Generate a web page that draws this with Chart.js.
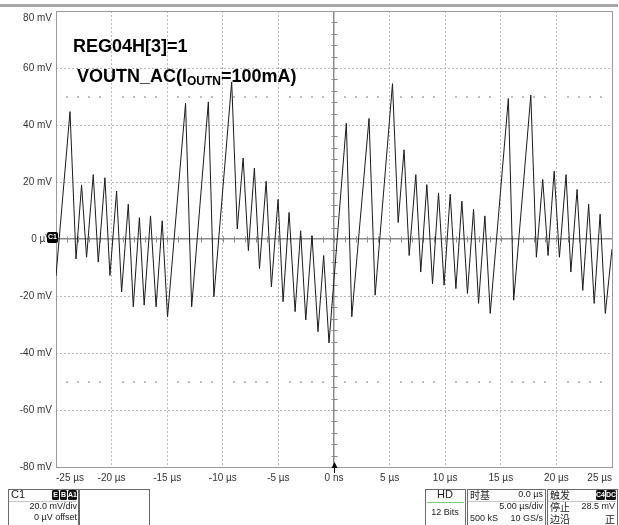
<!DOCTYPE html>
<html><head><meta charset="utf-8">
<script src="https://cdn.jsdelivr.net/npm/chart.js@4.4.0/dist/chart.umd.min.js"></script>
<style>html,body{margin:0;padding:0;background:#fff;}#wrap{position:relative;width:619px;height:525px;}</style>
</head><body><div id="wrap"><canvas id="c" width="619" height="525"></canvas></div>
<script>
// ---- data (time in µs, voltage in mV) ----
const timeUs = [-25.0,-23.74,-23.2,-22.7,-22.25,-21.65,-21.2,-20.6,-20.15,-19.55,-19.1,-18.5,-18.05,-17.5,-17.07,-16.5,-16.0,-15.45,-14.97,
  -13.35,-12.8,-11.3,-10.8,-9.2,-8.7,-8.17,-7.7,-7.16,-6.7,-6.1,-5.63,-5.03,-4.58,-4.04,-3.5,-3.0,-2.54,-1.98,-1.44,-0.93,-0.45,
  1.11,1.6,3.15,3.7,5.26,5.77,6.3,6.76,7.36,7.8,8.35,8.86,9.4,9.9,10.45,10.96,11.5,12.0,12.55,13.0,13.57,14.05,
  15.68,16.16,17.7,18.2,18.77,19.25,19.8,20.27,20.87,21.3,21.86,22.37,22.9,23.4,23.93,24.4,25.0];
const voltageMv = [-13,44.7,-7,19,-6.4,22.6,-8.1,21.5,-12.8,16.8,-18.6,12.2,-23.8,7.5,-23.2,8.1,-23.8,6.4,-27.3,
  47.6,-23.8,48.1,-20.3,55.1,3.5,28.4,-4.1,24.9,-10.4,20.3,-16.8,13.9,-22.0,9.3,-25.5,2.9,-28.4,1.2,-32.5,-5.8,-36.5,
  40.6,-27.3,42.3,-19.7,54.5,5.8,31.3,-5.8,22.6,-11.6,19.1,-15.7,16.2,-16.2,15.7,-17.4,13.3,-19.1,10.4,-22.6,8.1,-26.1,
  49.3,-21.5,50.5,-6.4,20.9,-5.8,23.8,-6.4,22.6,-11.6,17.4,-18.0,12.2,-22.6,8.7,-26.1,-3.5];
const xTicks = [-25,-20,-15,-10,-5,0,5,10,15,20,25];
const xTickLabels = ['-25 µs','-20 µs','-15 µs','-10 µs','-5 µs','0 ns','5 µs','10 µs','15 µs','20 µs','25 µs'];
const yTicks = [-80,-60,-40,-20,0,20,40,60,80];
const yTickLabels = ['-80 mV','-60 mV','-40 mV','-20 mV','0 µV','20 mV','40 mV','60 mV','80 mV'];
const titleLine1 = 'REG04H[3]=1';
const titleLine2 = ['VOUTN_AC(I', 'OUTN', '=100mA)'];
const markerLevelsMv = [50, -50];
const channelInfo = ['C1', '20.0 mV/div', '0 µV offset'];
const timebaseInfo = ['时基', '0.0 µs', '5.00 µs/div', '500 kS', '10 GS/s'];
const triggerInfo = ['触发', '停止', '28.5 mV', '边沿', '正'];
const acqInfo = ['HD', '12 Bits'];

const points = timeUs.map((t, i) => ({x: t, y: voltageMv[i]}));
const FONT = '"Liberation Sans Narrow","Liberation Sans",Arial,sans-serif';
const CJK = '"Noto Sans CJK SC","Liberation Sans Narrow",sans-serif';
const topTick = yTicks[yTicks.length - 1];

const extras = {
  id: 'extras',
  beforeDatasetsDraw(chart) {
    const {ctx, chartArea: a, scales: {x, y}} = chart;
    ctx.save();
    ctx.strokeStyle = '#8a8a8a'; ctx.lineWidth = 1;
    const y0 = Math.round(y.getPixelForValue(0)) + 0.5;
    const x0 = Math.round(x.getPixelForValue(0)) + 0.5;
    for (let t = -25; t <= 25; t += 1) {
      const px = Math.round(x.getPixelForValue(t)) + 0.5;
      ctx.beginPath(); ctx.moveTo(px, y0 - 3); ctx.lineTo(px, y0 + 3); ctx.stroke();
    }
    for (let v = -80; v <= 80; v += 4) {
      const py = Math.round(y.getPixelForValue(v)) + 0.5;
      ctx.beginPath(); ctx.moveTo(x0 - 3, py); ctx.lineTo(x0 + 3, py); ctx.stroke();
    }
    ctx.fillStyle = '#bdbdbd';
    markerLevelsMv.forEach(m => {
      const py = Math.round(y.getPixelForValue(m));
      for (let t = -24; t < 25; t += 1) {
        if (t % 5 === 0) continue;
        const px = Math.round(x.getPixelForValue(t));
        ctx.fillRect(px - 1, py - 1, 2, 2);
      }
    });
    ctx.strokeStyle = '#9a9a9a'; ctx.lineWidth = 1;
    ctx.strokeRect(Math.round(a.left) + 0.5, Math.round(a.top) + 0.5, Math.round(a.right - a.left), Math.round(a.bottom - a.top));
    ctx.restore();
  },
  afterDraw(chart) {
    const {ctx, chartArea: a, scales: {x, y}} = chart;
    ctx.save();
    ctx.fillStyle = '#a6a6a6';
    ctx.fillRect(0, 4, 618, 3);
    // top y label (drawn just below its gridline, as in the reference)
    ctx.fillStyle = '#333'; ctx.font = '10px ' + FONT; ctx.textAlign = 'right'; ctx.textBaseline = 'middle';
    ctx.fillText(yTickLabels[yTicks.length - 1], a.left - 4, y.getPixelForValue(topTick) + 7);
    // title text
    ctx.fillStyle = '#000';
    ctx.textBaseline = 'alphabetic'; ctx.textAlign = 'left';
    ctx.font = 'bold 18px "Liberation Sans",Arial,sans-serif';
    ctx.fillText(titleLine1, 73, 52);
    let tx = 77;
    ctx.fillText(titleLine2[0], tx, 82); tx += ctx.measureText(titleLine2[0]).width;
    ctx.font = 'bold 12px "Liberation Sans",Arial,sans-serif';
    ctx.fillText(titleLine2[1], tx, 85); tx += ctx.measureText(titleLine2[1]).width;
    ctx.font = 'bold 18px "Liberation Sans",Arial,sans-serif';
    ctx.fillText(titleLine2[2], tx, 82);
    // C1 marker
    const y0 = y.getPixelForValue(0);
    ctx.fillStyle = '#000';
    ctx.beginPath(); ctx.roundRect(47, y0 - 7, 11, 11, 2); ctx.fill();
    ctx.fillStyle = '#fff'; ctx.font = 'bold 7px ' + FONT; ctx.textAlign = 'center'; ctx.textBaseline = 'middle';
    ctx.fillText('C1', 52.5, y0 - 1.5);
    // trigger arrow
    const x0 = Math.round(x.getPixelForValue(0)) + 0.5;
    ctx.fillStyle = '#000'; ctx.strokeStyle = '#000';
    ctx.beginPath(); ctx.moveTo(x0, a.bottom - 5); ctx.lineTo(x0 - 3, a.bottom + 1); ctx.lineTo(x0 + 3, a.bottom + 1); ctx.closePath(); ctx.fill();
    ctx.beginPath(); ctx.moveTo(x0, a.bottom); ctx.lineTo(x0, a.bottom + 6); ctx.stroke();
    // bottom panels
    ctx.strokeStyle = '#6a6a6a'; ctx.lineWidth = 1;
    const box = (bx, by, bw, bh) => ctx.strokeRect(bx + 0.5, by + 0.5, bw, bh);
    box(8, 489, 70, 40); box(79, 489, 70, 40);
    box(425, 489, 40, 40); box(467, 489, 78, 40); box(547, 489, 70, 40);
    ctx.strokeStyle = '#c8c8c8';
    [[9, 77], [468, 544], [548, 616]].forEach(([l, r]) => { ctx.beginPath(); ctx.moveTo(l, 501.5); ctx.lineTo(r, 501.5); ctx.stroke(); });
    ctx.strokeStyle = '#7cc97c';
    ctx.beginPath(); ctx.moveTo(427, 502.5); ctx.lineTo(464, 502.5); ctx.stroke();
    const txt = (s, px, py, align, font) => { ctx.font = font; ctx.textAlign = align; ctx.fillText(s, px, py); };
    ctx.fillStyle = '#222'; ctx.textBaseline = 'middle';
    const f9 = '9px ' + FONT, c10 = '10px ' + CJK;
    txt(channelInfo[0], 11, 495, 'left', '11px ' + FONT);
    txt(channelInfo[1], 77, 507, 'right', f9);
    txt(channelInfo[2], 77, 518, 'right', f9);
    const badge = (s, bx, bw) => {
      ctx.fillStyle = '#111'; ctx.beginPath(); ctx.roundRect(bx, 490, bw, 10, 1.5); ctx.fill();
      ctx.fillStyle = '#fff'; txt(s, bx + bw / 2, 495.5, 'center', 'bold 7px ' + FONT); ctx.fillStyle = '#222';
    };
    badge('E', 52, 7); badge('B', 60, 7); badge('A1', 68, 9);
    txt(acqInfo[0], 445, 495, 'center', '11px ' + FONT);
    txt(acqInfo[1], 445, 513, 'center', f9);
    txt(timebaseInfo[0], 470, 495, 'left', c10);
    txt(timebaseInfo[1], 543, 495, 'right', f9);
    txt(timebaseInfo[2], 543, 507, 'right', f9);
    txt(timebaseInfo[3], 470, 519, 'left', f9);
    txt(timebaseInfo[4], 543, 519, 'right', f9);
    txt(triggerInfo[0], 550, 495, 'left', c10);
    txt(triggerInfo[1], 550, 507, 'left', c10);
    txt(triggerInfo[2], 615, 507, 'right', f9);
    txt(triggerInfo[3], 550, 519, 'left', c10);
    txt(triggerInfo[4], 615, 519, 'right', c10);
    badge('C4', 596, 9); badge('DC', 606, 10);
    ctx.restore();
  }
};

const gridColor = c => (c.tick && c.tick.value === 0) ? '#8a8a8a' : '#b9b9b9';
const gridDash = c => (c.tick && c.tick.value === 0) ? [] : [2, 2];

new Chart(document.getElementById('c'), {
  type: 'scatter',
  data: { datasets: [{ data: points, showLine: true, borderColor: '#1a1a1a', borderWidth: 1, pointRadius: 0, tension: 0 }] },
  options: {
    responsive: false, animation: false, devicePixelRatio: 1,
    layout: { padding: { top: 11, right: 7, left: 0, bottom: 0 } },
    plugins: { legend: { display: false }, tooltip: { enabled: false } },
    scales: {
      x: {
        type: 'linear', min: -25, max: 25,
        afterBuildTicks: s => { s.ticks = xTicks.map(v => ({value: v})); },
        afterFit: s => { s.height = 58; },
        ticks: { callback: v => xTickLabels[xTicks.indexOf(v)], maxRotation: 0, autoSkip: false, align: 'inner', padding: 5, color: '#333', font: { size: 10, family: FONT } },
        grid: { color: gridColor, lineWidth: c => (c.tick && c.tick.value === 0) ? 1.5 : 1, drawTicks: false },
        border: { display: false, dash: gridDash }
      },
      y: {
        type: 'linear', min: -80, max: 80,
        afterBuildTicks: s => { s.ticks = yTicks.map(v => ({value: v})); },
        afterFit: s => { s.width = 56; },
        ticks: { callback: v => v === topTick ? '' : yTickLabels[yTicks.indexOf(v)], padding: 4, color: '#333', font: { size: 10, family: FONT } },
        grid: { color: gridColor, lineWidth: c => (c.tick && c.tick.value === 0) ? 1.5 : 1, drawTicks: false },
        border: { display: false, dash: gridDash }
      }
    }
  },
  plugins: [extras]
});
</script></body></html>
